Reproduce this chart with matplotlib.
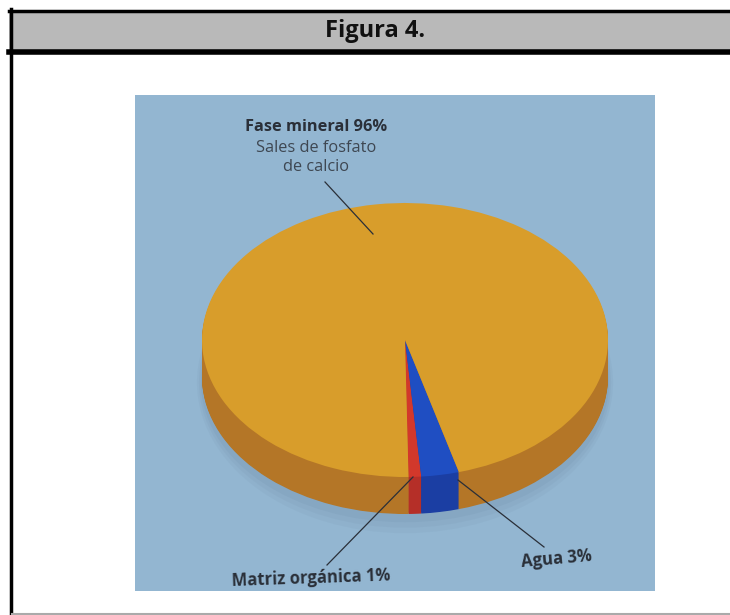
import numpy as np
import matplotlib
matplotlib.use("Agg")
from matplotlib import pyplot as plt
from matplotlib.patches import Rectangle, Ellipse

# composition of bone (percent)
labels = ["Matriz orgánica", "Agua", "Fase mineral"]
values = [1, 3, 96]
top_colors = ["#d2382b", "#1f4ec2", "#d89d2b"]
side_colors = ["#b52f28", "#1b3ea3", "#b47627"]

W, H = 730, 615
fig = plt.figure(figsize=(W / 100, H / 100), dpi=100)

# page frame in pixel coordinates
page = fig.add_axes([0, 0, 1, 1])
page.set_xlim(0, W)
page.set_ylim(H, 0)
page.axis("off")

page.add_patch(Rectangle((9, 10), 730, 42, facecolor="#b9b9b9", edgecolor="none"))
page.plot([9, 730], [10.5, 10.5], color="black", lw=2.5)
page.plot([9, 730], [51.5, 51.5], color="black", lw=4)
page.plot([10.5, 10.5], [9, 615], color="black", lw=2.5)
page.plot([12, 730], [613.5, 613.5], color="#aaaaaa", lw=1.5)
page.text(375, 31, "Figura 4.", ha="center", va="center", fontsize=17,
          fontweight="bold", family="Open Sans", color="#111111")

# light blue background behind the chart
page.add_patch(Rectangle((135, 95), 520, 496, facecolor="#93b6d1", edgecolor="none"))

# pie axes: x unit = 203 px, y unit = 137 px (tilted disc)
cx, cy, a, b = 405, 340, 203, 137
left = cx - 1.1 * a
top = cy - 1.1 * b
bottom = cy + 1.45 * b
pie_ax = fig.add_axes([left / W, (H - bottom) / H, 2.2 * a / W, (bottom - top) / H])
pie_ax.set_facecolor("none")

depth = 37 / b
start = -89

# soft shadow under the front of the disc
for k, al in zip([0.05, 0.03, 0.01], [0.07, 0.08, 0.10]):
    pie_ax.add_patch(Ellipse((0.0, -depth - 0.04), 2 + k, 2 + 4 * k,
                             facecolor="#5d7d98", edgecolor="none", alpha=al))

# side of the disc: stacked copies in the darker shades
for d in np.linspace(depth, 0.01, 40):
    pie_ax.pie(values, colors=side_colors, startangle=start, counterclock=True,
               center=(0, -d), radius=1, frame=True,
               wedgeprops=dict(linewidth=0, antialiased=True))

# top face
pie_ax.pie(values, colors=top_colors, startangle=start, counterclock=True,
           center=(0, 0), radius=1, frame=True,
           wedgeprops=dict(linewidth=0, antialiased=True))

pie_ax.set_aspect("auto")
pie_ax.set_xlim(-1.1, 1.1)
pie_ax.set_ylim(-1.45, 1.1)
pie_ax.axis("off")

# overlay for labels and leader lines
over = fig.add_axes([0, 0, 1, 1])
over.set_xlim(0, W)
over.set_ylim(H, 0)
over.axis("off")
over.patch.set_alpha(0)

ink = "#2a2f38"
over.text(316, 127, "Fase mineral 96%", ha="center", va="center", fontsize=11.8,
          fontweight="bold", family="Open Sans", color=ink)
over.text(316, 148, "Sales de fosfato", ha="center", va="center", fontsize=11.8,
          family="Open Sans", color="#3e4752")
over.text(316, 167, "de calcio", ha="center", va="center", fontsize=11.8,
          family="Open Sans", color="#3e4752")
over.plot([325, 373], [182, 234], color=ink, lw=0.9)

over.text(311, 578, "Matriz orgánica 1%", ha="center", va="center", fontsize=12,
          fontweight="bold", family="Open Sans", color=ink, rotation=2)
over.plot([413, 327], [477, 565], color=ink, lw=0.9)

over.text(557, 559, "Agua 3%", ha="center", va="center", fontsize=12,
          fontweight="bold", family="Open Sans", color=ink, rotation=5)
over.plot([458, 544], [480, 547], color=ink, lw=0.9)

fig.savefig("out.png", dpi=100)
